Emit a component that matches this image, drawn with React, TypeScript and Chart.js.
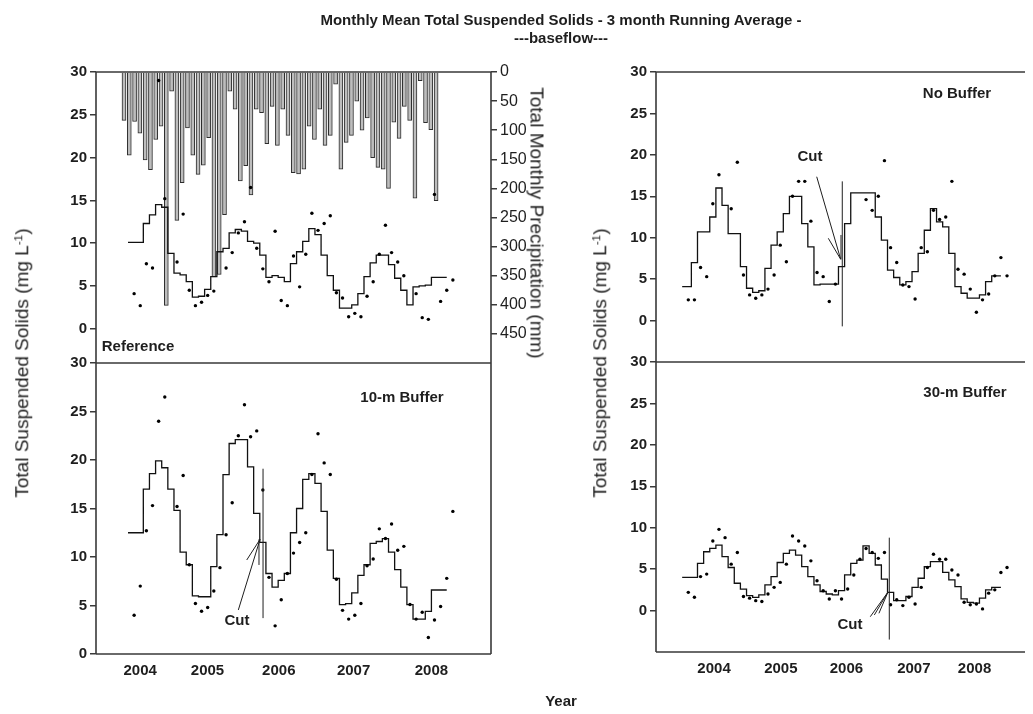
import React, { useEffect, useRef } from "react";
import { Chart, registerables } from "chart.js";

Chart.register(...registerables);

const W = 1033;
const H = 714;
const FONT = "'Liberation Sans', Arial, Helvetica, sans-serif";
const INK = "#1e1e1e";
const AXIS = "#3a3a3a";

// ---------------- data ----------------
// month index: 0 = first sampled month (Dec 2003)
const monthIdx = [
  -1, 0, 1, 2, 3, 4, 5, 6, 7, 8, 9, 10, 11, 12, 13, 14, 15, 16, 17, 18, 19, 20,
  21, 22, 23, 24, 25, 26, 27, 28, 29, 30, 31, 32, 33, 34, 35, 36, 37, 38, 39,
  40, 41, 42, 43, 44, 45, 46, 47, 48, 49, 50, 51, 52,
];

const yearLabels = ["2004", "2005", "2006", "2007", "2008"];
const leftYearTickPos = [0.98, 11.97, 23.6, 35.8, 48.5];
const rightYearTickPos = [4.2, 15.1, 25.8, 36.8, 46.7];
const tssTicks = [0, 5, 10, 15, 20, 25, 30];
const precipTicks = [0, 50, 100, 150, 200, 250, 300, 350, 400, 450];

// monthly precipitation bars (mm)
const precipBarIdx = [
  0, 1, 2, 3, 4, 5, 6, 7, 8, 9, 10, 11, 12, 13, 14, 15, 16, 17, 18, 19, 20, 21,
  22, 23, 24, 25, 26, 27, 28, 29, 30, 31, 32, 33, 34, 35, 36, 37, 38, 39, 40,
  41, 42, 43, 44, 45, 46, 47, 48, 49, 50, 51, 52, 53, 54, 55, 56, 57, 58, 59,
];
const precipMm = [
  83, 143, 85, 105, 151, 168, 116, 93, 401, 33, 255, 190, 96, 143, 176, 160,
  113, 352, 348, 245, 33, 64, 187, 161, 211, 64, 70, 123, 59, 126, 64, 109, 173,
  175, 167, 93, 116, 64, 126, 109, 21, 167, 121, 109, 50, 100, 79, 147, 164,
  167, 200, 86, 114, 59, 83, 217, 15, 87, 99, 221,
];

// Reference
const refDots = [
  null, 4.1, 2.7, 7.6, 7.1, 29.0, 15.2, null, 7.8, 13.4, 4.5, 2.7, 3.1, 3.9,
  4.4, null, 7.1, 8.9, 11.2, 12.5, 16.5, 9.4, 7.0, 5.5, 11.4, 3.3, 2.7, 8.5,
  4.9, 8.7, 13.5, 11.5, 12.3, 13.2, 4.2, 3.6, 1.4, 1.8, 1.4, 3.8, 5.5, 8.7,
  12.1, 8.9, 7.8, 6.2, null, 4.1, 1.3, 1.1, 15.7, 3.2, 4.5, 5.7,
];
const refAvg = [
  10.1, 10.1, 10.1, 12.3, 13.3, 14.5, 14.2, 8.8, 6.5, 6.3, 5.5, 3.7, 3.8, 4.6,
  6.1, 9.0, 9.4, 11.2, 11.6, 11.4, 10.2, 10.0, 8.6, 6.0, 6.2, 6.0, 5.5, 7.6,
  9.0, 10.2, 11.7, 11.0, 8.6, 6.2, 4.5, 2.4, 2.4, 2.8, 4.1, 6.1, 7.7, 8.6, 8.6,
  7.5, 5.9, 4.5, 2.8, 4.9, 5.0, 5.1, 6.0, 6.0, 6.0, null,
];

// 10-m Buffer
const tenDots = [
  null, 4.0, 7.0, 12.7, 15.3, 24.0, 26.5, null, 15.2, 18.4, 9.2, 5.2, 4.4, 4.8,
  6.5, 8.9, 12.3, 15.6, 22.5, 25.7, 22.4, 23.0, 16.9, 7.9, 2.9, 5.6, 8.3, 10.4,
  11.5, 12.5, 18.5, 22.7, 19.7, 18.5, 7.7, 4.5, 3.6, 4.0, 5.2, 9.1, 9.8, 12.9,
  11.9, 13.4, 10.7, 11.1, 5.1, 3.6, 4.3, 1.7, 3.5, 4.9, 7.8, 14.7,
];
const tenAvg = [
  12.5, 12.5, 12.5, 17.0, 18.6, 19.9, 19.2, 17.0, 14.8, 10.5, 9.2, 6.0, 5.9,
  5.9, 9.0, 12.3, 18.5, 21.7, 22.1, 22.1, 19.3, 14.5, 11.5, 8.3, 6.9, 7.6, 8.3,
  12.5, 15.0, 18.0, 18.6, 17.6, 14.7, 10.7, 7.8, 5.1, 5.2, 6.3, 8.1, 9.2, 11.4,
  11.6, 11.9, 10.5, 8.7, 6.9, 5.1, 3.6, 3.6, 4.4, 6.6, 6.6, 6.6, null,
];

// No Buffer
const noBufDots = [
  null, 2.5, 2.5, 6.4, 5.3, 14.1, 17.6, null, 13.5, 19.1, 5.5, 3.1, 2.7, 3.1,
  3.8, 5.5, 9.1, 7.1, 15.0, 16.8, 16.8, 12.0, 5.8, 5.3, 2.3, 4.4, null, null,
  null, null, 14.6, 13.3, 15.0, 19.3, 8.8, 7.0, 4.3, 4.1, 2.6, 8.8, 8.3, 13.3,
  12.2, 12.5, 16.8, 6.2, 5.6, 3.8, 1.0, 2.5, 3.2, 5.4, 7.6, 5.4,
];
const noBufAvg = [
  4.1, 4.1, 7.0, 10.7, 10.7, 12.5, 16.0, 13.9, 10.5, 10.5, 6.5, 3.9, 3.4, 3.6,
  6.3, 9.1, 10.7, 12.9, 15.0, 15.0, 11.7, 8.9, 4.3, 4.4, 4.4, 4.4, 6.5, 11.7,
  15.4, 15.4, 15.4, 15.4, 12.5, 9.7, 6.1, 5.2, 4.3, 4.7, 5.9, 8.1, 10.9, 13.5,
  11.9, 11.3, 8.1, 4.1, 3.3, 2.7, 2.7, 3.1, 4.7, 5.4, 5.4, null,
];

// 30-m Buffer
const thirtyDots = [
  null, 2.2, 1.6, 4.1, 4.4, 8.4, 9.8, 8.8, 5.6, 7.0, 1.7, 1.5, 1.2, 1.1, 2.0,
  2.8, 3.4, 5.6, 9.0, 8.4, 7.8, 6.0, 3.6, 2.4, 1.4, 2.4, 1.4, 2.6, 4.3, 6.2,
  7.5, 7.0, 6.3, 7.0, 0.7, 1.3, 0.6, 1.6, 0.8, 2.8, 5.2, 6.8, 6.2, 6.2, 4.9,
  4.3, 1.0, 0.7, 0.8, 0.2, 2.1, 2.5, 4.6, 5.2,
];
const thirtyAvg = [
  4.0, 4.0, 4.0, 5.7, 7.1, 7.5, 7.9, 6.5, 5.2, 3.3, 2.6, 1.8, 1.6, 1.9, 3.1,
  4.1, 5.8, 6.9, 7.3, 6.7, 5.3, 4.1, 3.1, 2.3, 2.0, 1.9, 2.4, 4.3, 5.7, 6.1,
  7.8, 6.9, 5.5, 3.8, 2.2, 1.2, 1.2, 1.7, 2.8, 3.9, 5.3, 5.9, 5.9, 4.6, 3.7,
  2.9, 1.4, 1.0, 0.9, 1.5, 2.5, 2.8, 2.8, null,
];

// "Cut" markers (month index / TSS units): vertical line and pointer segments
const noBufCutX = 25.12;
const noBufCutSpan = [16.8, -0.7];
const noBufCutPointers = [
  [20.95, 17.36, 24.86, 7.4],
  [22.84, 9.93, 24.86, 7.4],
  [24.91, 10.33, 24.91, 7.4],
];
const tenCutX = 21.03;
const tenCutSpan = [19.1, 3.7];
const tenCutPointers = [
  [17.0, 4.54, 20.54, 11.82],
  [18.37, 9.69, 20.54, 11.82],
  [20.37, 9.18, 20.37, 11.82],
];
const thirtyCutX = 32.79;
const thirtyCutSpan = [8.8, -3.5];
const thirtyCutPointers = [
  [29.69, -0.74, 32.58, 2.24],
  [30.35, -0.53, 32.58, 2.24],
  [31.1, -0.33, 32.58, 2.24],
];

// ---------------- chart helpers ----------------
type Area = { left: number; right: number; top: number; bottom: number };
type Sides = { top?: boolean; left?: boolean; right?: boolean; bottom?: boolean };
type Cut = { x: number; span: number[]; pointers: number[][] } | null;

type PanelCfg = {
  area: Area;
  yMin: number;
  xMin: number;
  xMax: number;
  avg: (number | null)[];
  dots: (number | null)[];
  precip: boolean;
  years: number[] | null;
  sides: Sides;
  cut: Cut;
};

const Y_W = 50;
const YP_W = 60;
const X_H = 30;

function makeFramePlugin(sides: Sides) {
  return {
    id: "frame",
    afterDatasetsDraw(chart: any) {
      const { ctx, chartArea: a } = chart;
      ctx.save();
      ctx.strokeStyle = AXIS;
      ctx.lineWidth = 1.6;
      ctx.beginPath();
      if (sides.top) {
        ctx.moveTo(a.left, a.top);
        ctx.lineTo(a.right, a.top);
      }
      if (sides.bottom) {
        ctx.moveTo(a.left, a.bottom);
        ctx.lineTo(a.right, a.bottom);
      }
      if (sides.left) {
        ctx.moveTo(a.left, a.top);
        ctx.lineTo(a.left, a.bottom);
      }
      if (sides.right) {
        ctx.moveTo(a.right, a.top);
        ctx.lineTo(a.right, a.bottom);
      }
      ctx.stroke();
      ctx.restore();
    },
  };
}

function makeCutPlugin(cut: Cut) {
  return {
    id: "cutMark",
    afterDatasetsDraw(chart: any) {
      if (!cut) return;
      const xs = chart.scales.x;
      const ys = chart.scales.y;
      const ctx = chart.ctx;
      ctx.save();
      ctx.strokeStyle = INK;
      ctx.lineWidth = 1;
      ctx.beginPath();
      const X = xs.getPixelForValue(cut.x);
      ctx.moveTo(X, ys.getPixelForValue(cut.span[0]));
      ctx.lineTo(X, ys.getPixelForValue(cut.span[1]));
      for (const p of cut.pointers) {
        ctx.moveTo(xs.getPixelForValue(p[0]), ys.getPixelForValue(p[1]));
        ctx.lineTo(xs.getPixelForValue(p[2]), ys.getPixelForValue(p[3]));
      }
      ctx.stroke();
      ctx.restore();
    },
  };
}

function buildConfig(p: PanelCfg): any {
  const datasets: any[] = [];
  if (p.precip) {
    datasets.push({
      type: "bar",
      data: precipBarIdx.map((x, i) => ({ x, y: precipMm[i] })),
      xAxisID: "xb",
      yAxisID: "yp",
      backgroundColor: "#bdbdbd",
      borderColor: "#2c2c2c",
      borderWidth: 1,
      barThickness: 4,
      order: 3,
    });
  }
  datasets.push({
    type: "line",
    data: monthIdx.map((x, i) => ({ x, y: p.avg[i] })),
    xAxisID: "x",
    yAxisID: "y",
    borderColor: "#111",
    borderWidth: 1.3,
    stepped: "middle",
    pointRadius: 0,
    fill: false,
    order: 1,
  });
  datasets.push({
    type: "scatter",
    data: monthIdx.map((x, i) => ({ x, y: p.dots[i] })),
    xAxisID: "x",
    yAxisID: "y",
    pointRadius: 1.7,
    pointBackgroundColor: "#000",
    pointBorderWidth: 0,
    showLine: false,
    order: 0,
  });

  const scales: any = {
    x: {
      type: "linear",
      position: "bottom",
      offset: false,
      min: p.xMin,
      max: p.xMax,
      display: !!p.years,
      grid: { display: false, drawTicks: false },
      border: { display: false },
      afterBuildTicks: (s: any) => {
        if (p.years) s.ticks = p.years.map((v) => ({ value: v }));
      },
      ticks: {
        autoSkip: false,
        maxRotation: 0,
        padding: 8,
        color: INK,
        font: { family: FONT, size: 15, weight: "bold" },
        callback: (_v: any, i: number) => yearLabels[i],
      },
    },
    y: {
      type: "linear",
      position: "left",
      min: p.yMin,
      max: 30,
      afterFit: (s: any) => {
        s.width = Y_W;
      },
      afterBuildTicks: (s: any) => {
        s.ticks = tssTicks.map((v) => ({ value: v }));
      },
      grid: {
        display: true,
        drawOnChartArea: false,
        drawTicks: true,
        tickLength: 6,
        color: AXIS,
        lineWidth: 1.5,
      },
      border: { display: false },
      ticks: {
        padding: 3,
        color: INK,
        font: { family: FONT, size: 15, weight: "bold" },
      },
    },
  };
  if (p.years) {
    scales.x.afterFit = (s: any) => {
      s.height = X_H;
    };
  }
  if (p.precip) {
    scales.xb = {
      type: "linear",
      display: false,
      offset: false,
      grid: { offset: false },
      min: -5.67,
      max: 69.0,
    };
    scales.yp = {
      type: "linear",
      position: "right",
      reverse: true,
      min: 0,
      max: 500,
      afterFit: (s: any) => {
        s.width = YP_W;
      },
      afterBuildTicks: (s: any) => {
        s.ticks = precipTicks.map((v) => ({ value: v }));
      },
      grid: {
        display: true,
        drawOnChartArea: false,
        drawTicks: true,
        tickLength: 6,
        color: AXIS,
        lineWidth: 1.5,
      },
      border: { display: false },
      ticks: {
        padding: 3,
        color: INK,
        font: { family: FONT, size: 16 },
      },
    };
  }

  const a = p.area;
  return {
    type: "line",
    data: { datasets },
    options: {
      responsive: false,
      animation: false,
      devicePixelRatio: 1,
      events: [],
      layout: {
        autoPadding: false,
        padding: {
          left: a.left - Y_W,
          right: W - a.right - (p.precip ? YP_W : 0),
          top: a.top,
          bottom: H - a.bottom - (p.years ? X_H : 0),
        },
      },
      plugins: { legend: { display: false }, tooltip: { enabled: false } },
      scales,
    },
    plugins: [makeFramePlugin(p.sides), makeCutPlugin(p.cut)],
  };
}

const panels: PanelCfg[] = [
  {
    area: { left: 96, right: 491, top: 72, bottom: 363 },
    yMin: -4,
    xMin: -6.22,
    xMax: 58.22,
    avg: refAvg,
    dots: refDots,
    precip: true,
    years: null,
    sides: { top: true, left: true, right: true, bottom: true },
    cut: null,
  },
  {
    area: { left: 96, right: 491, top: 363, bottom: 654 },
    yMin: 0,
    xMin: -6.22,
    xMax: 58.22,
    avg: tenAvg,
    dots: tenDots,
    precip: false,
    years: leftYearTickPos,
    sides: { left: true, right: true, bottom: true },
    cut: { x: tenCutX, span: tenCutSpan, pointers: tenCutPointers },
  },
  {
    area: { left: 656, right: 1025, top: 72, bottom: 362 },
    yMin: -5,
    xMin: -5.27,
    xMax: 54.93,
    avg: noBufAvg,
    dots: noBufDots,
    precip: false,
    years: null,
    sides: { top: true, left: true, bottom: true },
    cut: { x: noBufCutX, span: noBufCutSpan, pointers: noBufCutPointers },
  },
  {
    area: { left: 656, right: 1025, top: 362, bottom: 652 },
    yMin: -5,
    xMin: -5.27,
    xMax: 54.93,
    avg: thirtyAvg,
    dots: thirtyDots,
    precip: false,
    years: rightYearTickPos,
    sides: { left: true, bottom: true },
    cut: { x: thirtyCutX, span: thirtyCutSpan, pointers: thirtyCutPointers },
  },
];

function PanelChart({ cfg }: { cfg: PanelCfg }) {
  const ref = useRef<HTMLCanvasElement | null>(null);
  useEffect(() => {
    if (!ref.current) return;
    const chart = new Chart(ref.current, buildConfig(cfg));
    return () => chart.destroy();
  }, [cfg]);
  return (
    <canvas
      ref={ref}
      width={W}
      height={H}
      style={{ position: "absolute", left: 0, top: 0, width: W, height: H }}
    />
  );
}

function Txt(props: {
  x: number;
  y: number;
  size: number;
  bold?: boolean;
  rotate?: number;
  children: React.ReactNode;
}) {
  const { x, y, size, bold, rotate, children } = props;
  return (
    <div
      style={{
        position: "absolute",
        left: x,
        top: y,
        transform: `translate(-50%, -50%) rotate(${rotate || 0}deg)`,
        fontFamily: FONT,
        fontSize: size,
        fontWeight: bold ? 700 : 400,
        color: INK,
        whiteSpace: "nowrap",
        lineHeight: 1,
      }}
    >
      {children}
    </div>
  );
}

const sup = { fontSize: "0.62em", verticalAlign: "0.55em" } as const;

export default function App() {
  return (
    <div
      style={{
        position: "fixed",
        left: 0,
        top: 0,
        width: W,
        height: H,
        background: "#fff",
        overflow: "hidden",
      }}
    >
      {panels.map((p, i) => (
        <PanelChart key={i} cfg={p} />
      ))}
      <Txt x={561} y={19} size={15} bold>
        Monthly Mean Total Suspended Solids - 3 month Running Average -
      </Txt>
      <Txt x={561} y={37} size={15} bold>
        ---baseflow---
      </Txt>
      <Txt x={561} y={700} size={15} bold>
        Year
      </Txt>
      <Txt x={22} y={363} size={19} rotate={-90}>
        Total Suspended Solids (mg L<span style={sup}>-1</span>)
      </Txt>
      <Txt x={600} y={363} size={19} rotate={-90}>
        Total Suspended Solids (mg L<span style={sup}>-1</span>)
      </Txt>
      <Txt x={537} y={223} size={19} rotate={90}>
        Total Monthly Precipitation (mm)
      </Txt>
      <Txt x={138} y={345} size={15} bold>
        Reference
      </Txt>
      <Txt x={402} y={396} size={15} bold>
        10-m Buffer
      </Txt>
      <Txt x={957} y={92} size={15} bold>
        No Buffer
      </Txt>
      <Txt x={965} y={391} size={15} bold>
        30-m Buffer
      </Txt>
      <Txt x={810} y={155} size={15} bold>
        Cut
      </Txt>
      <Txt x={237} y={619} size={15} bold>
        Cut
      </Txt>
      <Txt x={850} y={623} size={15} bold>
        Cut
      </Txt>
    </div>
  );
}
